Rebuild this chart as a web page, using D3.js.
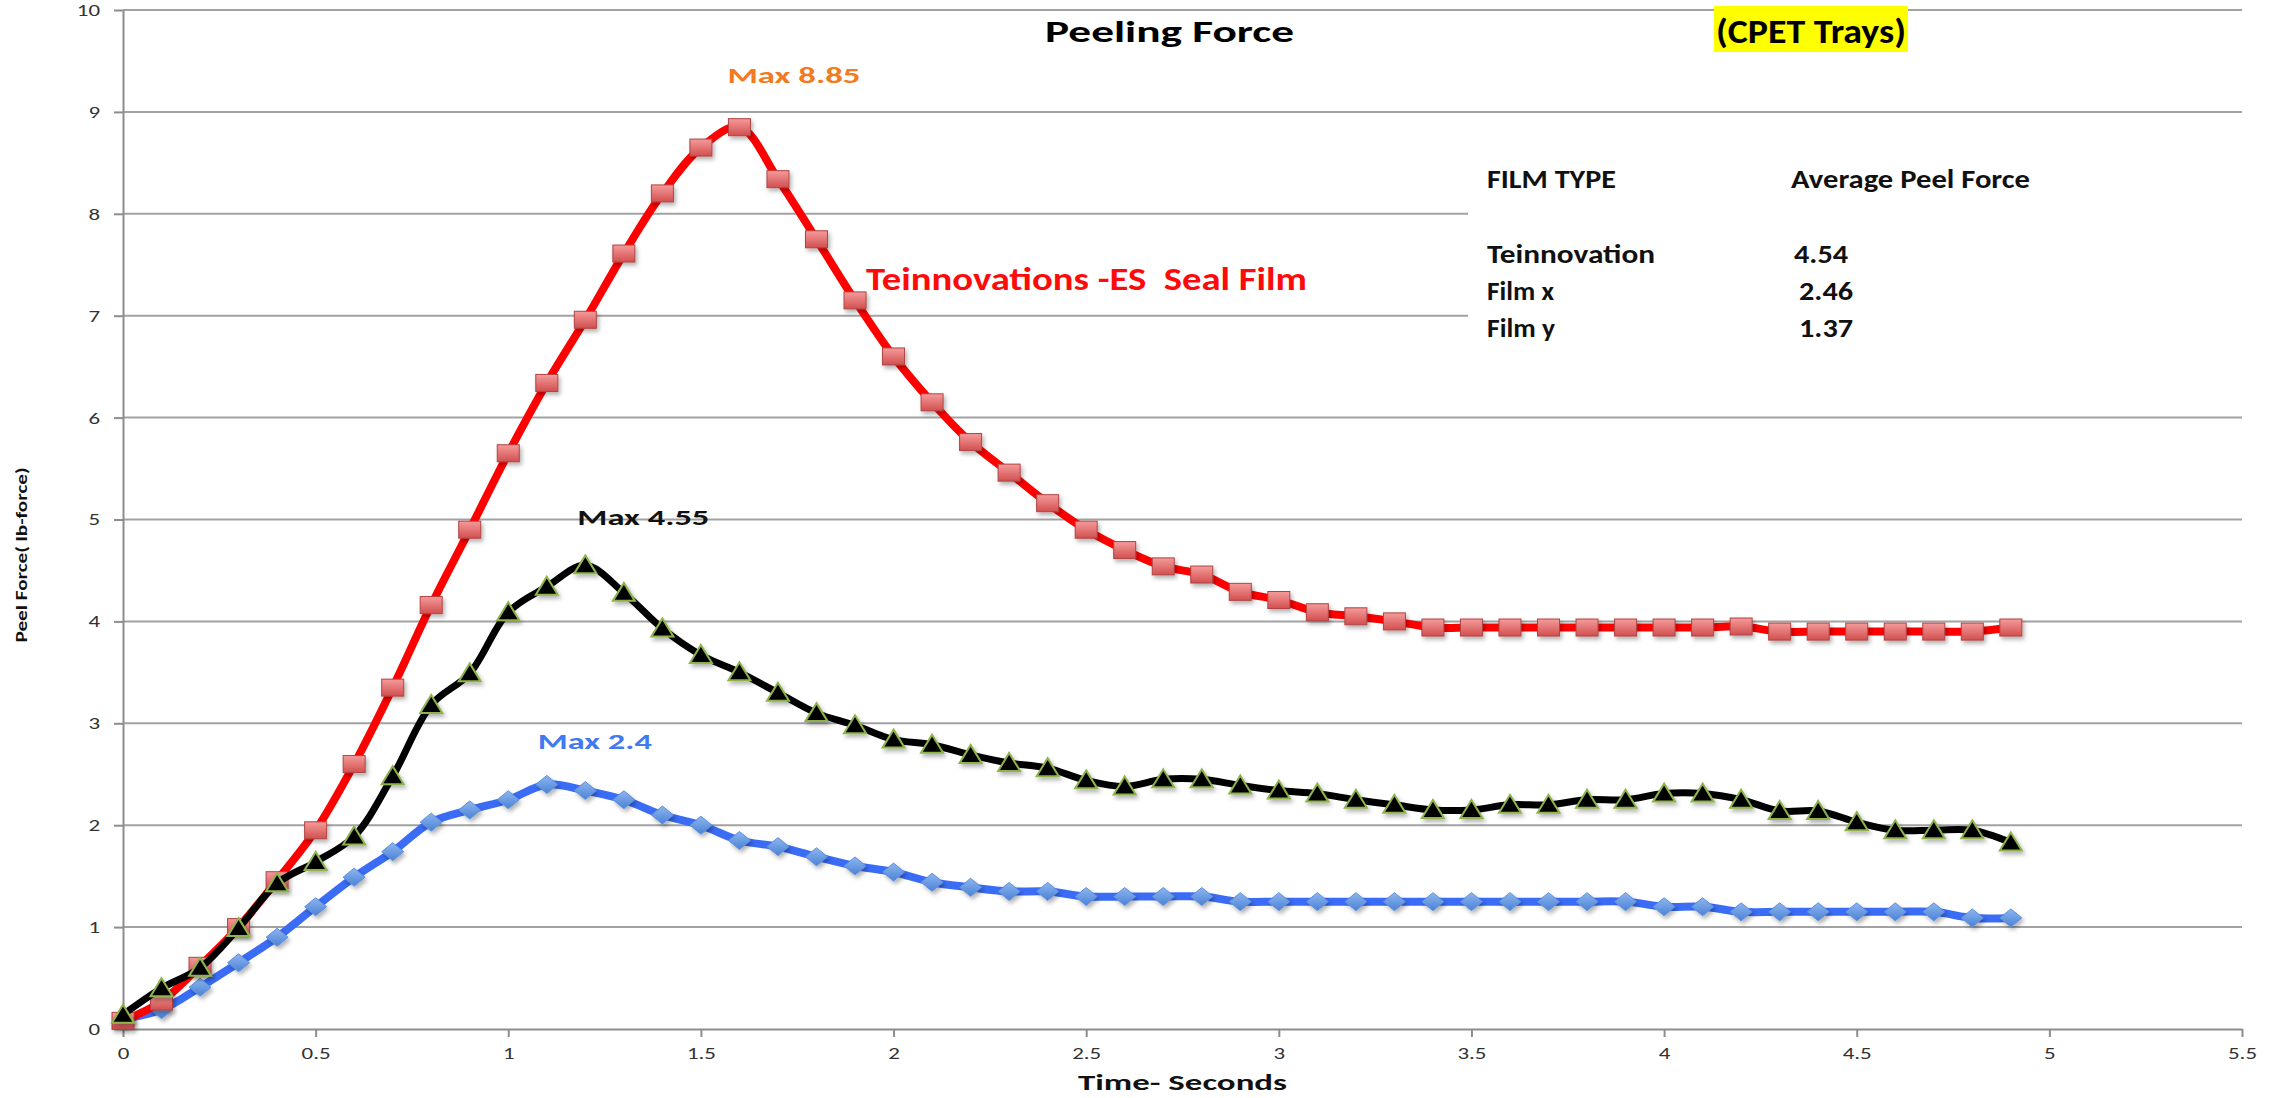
<!DOCTYPE html>
<html>
<head>
<meta charset="utf-8">
<script src="https://d3js.org/d3.v7.min.js"></script>
<style>
  body { margin: 0; background: #fff; }
  svg { display: block; font-family: Carlito, Lato, "Open Sans", sans-serif; }
</style>
</head>
<body>
<script>
// time in seconds, one sample every 0.1 s
var times = [0, 0.1, 0.2, 0.3, 0.4, 0.5, 0.6, 0.7, 0.8, 0.9,
  1.0, 1.1, 1.2, 1.3, 1.4, 1.5, 1.6, 1.7, 1.8, 1.9,
  2.0, 2.1, 2.2, 2.3, 2.4, 2.5, 2.6, 2.7, 2.8, 2.9,
  3.0, 3.1, 3.2, 3.3, 3.4, 3.5, 3.6, 3.7, 3.8, 3.9,
  4.0, 4.1, 4.2, 4.3, 4.4, 4.5, 4.6, 4.7, 4.8, 4.9];

// peel force (lb-force)
var teinnovation = [0.08, 0.27, 0.62, 1.0, 1.46, 1.95, 2.6, 3.35, 4.16, 4.9,
  5.65, 6.34, 6.96, 7.61, 8.2, 8.65, 8.85, 8.34, 7.75, 7.15,
  6.6, 6.15, 5.76, 5.46, 5.16, 4.9, 4.7, 4.54, 4.46, 4.29,
  4.21, 4.09, 4.05, 4.0, 3.94, 3.94, 3.94, 3.94, 3.94, 3.94,
  3.94, 3.94, 3.95, 3.9, 3.9, 3.9, 3.9, 3.9, 3.9, 3.94];
var filmX = [0.14, 0.4, 0.6, 0.99, 1.43, 1.64, 1.89, 2.48, 3.18, 3.49,
  4.09, 4.34, 4.55, 4.28, 3.93, 3.67, 3.5, 3.3, 3.1, 2.98,
  2.84, 2.79, 2.69, 2.61, 2.56, 2.44, 2.38, 2.45, 2.45, 2.39,
  2.34, 2.31, 2.25, 2.2, 2.15, 2.15, 2.2, 2.2, 2.25, 2.25,
  2.31, 2.31, 2.25, 2.14, 2.14, 2.03, 1.95, 1.95, 1.95, 1.83];
var filmY = [0.1, 0.19, 0.41, 0.65, 0.9, 1.2, 1.49, 1.74, 2.03, 2.15,
  2.25, 2.4, 2.34, 2.25, 2.1, 2.0, 1.85, 1.79, 1.69, 1.6,
  1.54, 1.44, 1.39, 1.35, 1.35, 1.3, 1.3, 1.3, 1.3, 1.25,
  1.25, 1.25, 1.25, 1.25, 1.25, 1.25, 1.25, 1.25, 1.25, 1.25,
  1.2, 1.2, 1.15, 1.15, 1.15, 1.15, 1.15, 1.15, 1.09, 1.09];

// average table
var filmTypes = ["Teinnovation", "Film x", "Film y"];
var avgPeel = [4.54, 2.46, 1.37];

var xTicks = [0, 0.5, 1, 1.5, 2, 2.5, 3, 3.5, 4, 4.5, 5, 5.5];
var yTicks = [0, 1, 2, 3, 4, 5, 6, 7, 8, 9, 10];

var width = 2282, height = 1098;
var SX = 1.35; // the original picture is stretched sideways

var x = d3.scaleLinear().domain([0, 5.5]).range([123, 2242]);
var y = d3.scaleLinear().domain([0, 10]).range([1029, 10]);

var svg = d3.select("body").append("svg")
  .attr("width", width)
  .attr("height", height);

var defs = svg.append("defs");
var sh = defs.append("filter").attr("id", "shadow")
  .attr("x", "-50%").attr("y", "-50%").attr("width", "200%").attr("height", "200%");
sh.append("feDropShadow").attr("dx", 2).attr("dy", 3).attr("stdDeviation", 2)
  .attr("flood-color", "#000").attr("flood-opacity", 0.3);

function grad(id, c1, c2) {
  var g = defs.append("linearGradient").attr("id", id)
    .attr("x1", 0).attr("y1", 0).attr("x2", 0).attr("y2", 1);
  g.append("stop").attr("offset", "0%").attr("stop-color", c1);
  g.append("stop").attr("offset", "100%").attr("stop-color", c2);
}
grad("redSq", "#f59b9b", "#d24f4f");
grad("blueDia", "#8db6ef", "#4b82d6");

// horizontal gridlines
svg.append("g").selectAll("line")
  .data(yTicks.slice(1))
  .join("line")
  .attr("x1", x(0)).attr("x2", x(5.5))
  .attr("y1", function(d) { return y(d); })
  .attr("y2", function(d) { return y(d); })
  .attr("stroke", "#a2a2a2")
  .attr("stroke-width", 2);

// white text box of the table hides part of the grid
svg.append("rect")
  .attr("x", 1468).attr("y", 140)
  .attr("width", width - 1468).attr("height", 212)
  .attr("fill", "#fff");

// axes
var xAxis = svg.append("g")
  .attr("transform", "translate(0," + y(0) + ")")
  .call(d3.axisBottom(x).tickValues(xTicks).tickSize(8).tickSizeOuter(0).tickFormat(d3.format("")));
var yAxis = svg.append("g")
  .attr("transform", "translate(" + x(0) + ",0)")
  .call(d3.axisLeft(y).tickValues(yTicks).tickSize(9).tickSizeOuter(0).tickFormat(d3.format("")));

[xAxis, yAxis].forEach(function(a) {
  a.select(".domain").attr("stroke", "#8d8d8d").attr("stroke-width", 2);
  a.selectAll(".tick line").attr("stroke", "#8d8d8d").attr("stroke-width", 2);
  a.selectAll(".tick text")
    .style("font-family", "Carlito, Lato, sans-serif")
    .style("font-size", "17px")
    .attr("fill", "#333");
});
xAxis.selectAll(".tick text").attr("y", 18).attr("transform", "scale(" + SX + ",1)");
yAxis.selectAll(".tick text").attr("x", -17).attr("transform", "scale(" + SX + ",1)");

// series
var line = d3.line()
  .x(function(d, i) { return x(times[i]); })
  .y(function(d) { return y(d); })
  .curve(d3.curveCatmullRom.alpha(0.5));

function drawSeries(values, color, lw, shape) {
  var g = svg.append("g");
  g.append("path")
    .datum(values)
    .attr("d", line)
    .attr("fill", "none")
    .attr("stroke", color)
    .attr("stroke-width", lw)
    .attr("stroke-linejoin", "round");
  var m = g.selectAll(".m")
    .data(values)
    .join("g")
    .attr("transform", function(d, i) { return "translate(" + x(times[i]) + "," + y(d) + ")"; })
    .attr("filter", "url(#shadow)");
  if (shape === "square") {
    m.append("rect")
      .attr("x", -11).attr("y", -8.5).attr("width", 22).attr("height", 17)
      .attr("fill", "url(#redSq)").attr("stroke", "#b04343").attr("stroke-width", 1);
  } else if (shape === "diamond") {
    m.append("path")
      .attr("d", "M0,-9L11,0L0,9L-11,0Z")
      .attr("fill", "url(#blueDia)").attr("stroke", "#5d8fdc").attr("stroke-width", 1);
  } else {
    m.append("path")
      .attr("d", "M0,-10L11,8L-11,8Z")
      .attr("fill", "#000").attr("stroke", "#8fb34c").attr("stroke-width", 2);
  }
}

drawSeries(filmY, "#3a6cf6", 8, "diamond");
drawSeries(teinnovation, "#ff0000", 8, "square");
drawSeries(filmX, "#000000", 7, "triangle");

// text helper, width forced to what the picture shows
function label(txt, tx, ty, size, weight, color, len, anchor) {
  var t = svg.append("text")
    .attr("x", tx).attr("y", ty)
    .style("font-size", size + "px")
    .style("font-weight", weight)
    .style("white-space", "pre")
    .attr("fill", color)
    .attr("text-anchor", anchor || "start")
    .text(txt);
  if (len) t.attr("textLength", len).attr("lengthAdjust", "spacingAndGlyphs");
  return t;
}

// titles
label("Peeling Force", 1045, 42, 30, "bold", "#000", 249);
svg.append("rect").attr("x", 1714).attr("y", 6).attr("width", 194).attr("height", 46).attr("fill", "#ffff00");
label("(CPET Trays)", 1716, 43, 34, "bold", "#000", 190);

// max annotations, placed from the peak of each series
function peak(values) {
  var i = d3.maxIndex(values);
  return { t: times[i], v: values[i] };
}
var pR = peak(teinnovation), pX = peak(filmX), pY = peak(filmY);
label("Max " + pR.v, x(pR.t) - 12, y(pR.v) - 44, 22, "bold", "#f47a20", 133);
label("Max " + pX.v, x(pX.t) - 8, y(pX.v) - 40, 22, "bold", "#111", 132);
label("Max " + pY.v, x(pY.t) - 9, y(pY.v) - 35, 22, "bold", "#4079f2", 114);

label("Teinnovations -ES  Seal Film", 866, 290, 32, "bold", "#ff0a0a", 441);

// table
label("FILM TYPE", 1487, 188, 26, "bold", "#111", 129);
label("Average Peel Force", 1791, 188, 26, "bold", "#111", 239);
var rowLen = [168, 67, 68];
filmTypes.forEach(function(f, i) {
  label(f, 1487, 263 + i * 37, 26, "bold", "#111", rowLen[i]);
  label(avgPeel[i].toFixed(2), i === 0 ? 1794 : 1799, 263 + i * 37, 26, "bold", "#111", 54);
});

// axis titles
label("Time- Seconds", 1078, 1090, 22, "bold", "#111", 209);
label("Peel Force( lb-force)", 0, 0, 15, "bold", "#111", 175, "middle")
  .attr("transform", "translate(27,555) rotate(-90)")
  .attr("x", 0).attr("y", 0);
</script>
</body>
</html>
